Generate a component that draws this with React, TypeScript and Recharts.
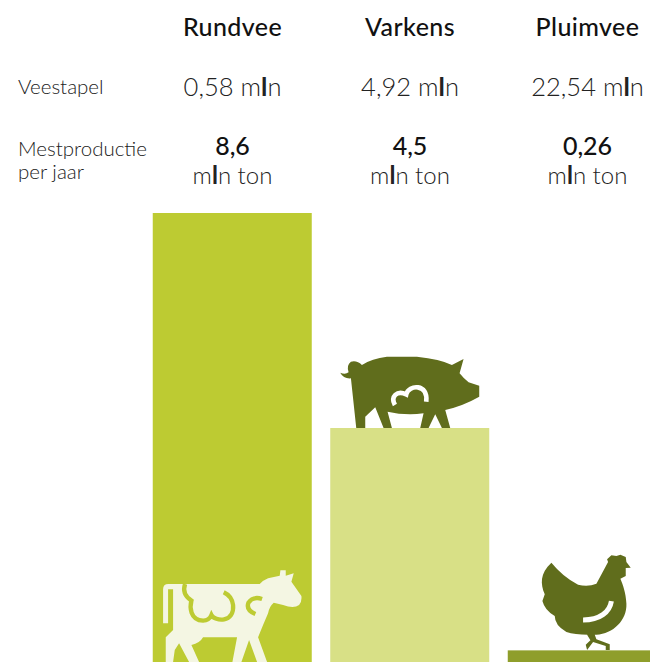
import { Bar, BarChart, XAxis, YAxis } from 'recharts';

const CATEGORIES = ['Rundvee', 'Varkens', 'Pluimvee'];
const MANURE = [8.6, 4.5, 0.26];
const MANURE_LABELS = ['8,6', '4,5', '0,26'];
const LIVESTOCK_LABELS = ['0,58', '4,92', '22,54'];
const ROW_LABEL_LIVESTOCK = 'Veestapel';
const ROW_LABEL_MANURE = ['Mestproductie', 'per jaar'];
const BAR_COLORS = ['#bdcb32', '#d8e086', '#8f9e2b'];

const chartData = CATEGORIES.map((name, index) => ({ name, manure: MANURE[index] }));

const FONT = 'Lato, "Open Sans", sans-serif';
const INK = '#111111';
const ICON_DARK = '#606d1c';
const ICON_LIGHT = '#f4f6e3';

function Mln() {
  return (
    <>
      m<tspan fontWeight={700}>l</tspan>n
    </>
  );
}

function ColumnTick({ x, index, payload }: any) {
  return (
    <g fontFamily={FONT} textAnchor="middle">
      <text x={x} y={36} fontSize={25} fontWeight={500} letterSpacing={0.4} fill={INK}>
        {payload.value}
      </text>
      <text x={x} y={96} fontSize={25.5} fontWeight={300} fill="#222222">
        {LIVESTOCK_LABELS[index]} <Mln />
      </text>
      <text x={x} y={155} fontSize={25} fontWeight={500} fill={INK}>
        {MANURE_LABELS[index]}
      </text>
      <text x={x} y={184} fontSize={24} fontWeight={300} fill="#222222">
        <Mln /> ton
      </text>
      {index === 0 && (
        <g textAnchor="start" fontSize={20.5} fontWeight={300} fill="#222222">
          <text x={18} y={94}>{ROW_LABEL_LIVESTOCK}</text>
          <text x={18} y={156}>{ROW_LABEL_MANURE[0]}</text>
          <text x={18} y={179}>{ROW_LABEL_MANURE[1]}</text>
        </g>
      )}
    </g>
  );
}

// icons are traced at 3x, hence the scale
function Cow() {
  return (
    <g transform="scale(0.3333)">
      <path
        fill={ICON_LIGHT}
        d="M70 190 L70 88 Q70 72 86 72 L360 72 Q372 60 385 55 L420 47 L422 31 L438 31 L438 47 L462 40 L455 65 L485 108 Q487 125 478 135 Q462 147 430 135 L402 128 Q388 140 385 160 L370 195 L355 232 L382 306 L352 306 L328 240 L305 306 L278 306 L292 232 L190 232 Q180 250 155 255 L178 306 L148 306 L118 250 L105 270 L100 306 L78 306 L78 232 L100 210 L100 88 L85 88 L85 190 Z"
      />
      <path
        fill="none"
        stroke={BAR_COLORS[0]}
        strokeWidth={13}
        d="M136 72 C128 95 140 112 155 122 C150 140 150 180 190 182 C205 182 212 172 215 165 C225 185 285 190 280 135 C277 115 265 103 252 97"
      />
      <path
        fill="none"
        stroke={BAR_COLORS[0]}
        strokeWidth={13}
        d="M367 117 Q340 108 326 128 Q318 150 347 162"
      />
    </g>
  );
}

function Pig() {
  return (
    <g transform="scale(0.3333)">
      <path
        fill={ICON_DARK}
        d="M62 100 L78 249 L105 249 L105 215 L135 187 L160 249 L185 249 L172 200 Q225 212 280 205 L270 249 L295 249 L315 208 L335 249 L360 249 L345 195 Q400 182 447 155 L447 122 L415 112 Q400 100 388 85 L400 42 L365 60 Q330 42 260 35 L170 35 Q125 40 95 60 Q80 45 62 50 Q48 60 55 82 Q45 90 30 83 Q40 102 62 100 Z"
      />
      <path
        fill="none"
        stroke="#ffffff"
        strokeWidth={14}
        d="M194 180 C180 155 200 135 228 148 C235 118 295 115 288 170"
      />
    </g>
  );
}

function Hen() {
  return (
    <g transform="scale(0.3333)">
      <path
        fill={ICON_DARK}
        d="M155 52 C120 85 122 115 135 147 L128 167 Q135 195 165 212 Q165 240 200 260 Q225 268 265 268 L285 268 L290 282 L330 297 L330 314 L318 314 L318 302 L280 290 L262 314 L258 298 L272 285 L262 268 L290 268 C340 265 382 225 380 175 C378 140 370 120 362 100 L378 92 L378 68 L393 67 L380 50 L378 35 L362 28 L350 32 L335 30 L322 42 L325 50 L290 115 Q265 125 235 118 Q190 95 155 52 Z"
      />
      <path
        fill="none"
        stroke="#ffffff"
        strokeWidth={15}
        d="M335 167 C330 200 300 224 250 224"
      />
    </g>
  );
}

function BarWithIcon({ x, y, width, height, index }: any) {
  const bottom = y + height;
  return (
    <g>
      <rect x={x} y={y} width={width} height={height} fill={BAR_COLORS[index]} />
      {index === 0 && (
        <g transform={`translate(${x - 13} ${bottom - 104})`}>
          <Cow />
        </g>
      )}
      {index === 1 && (
        <g transform={`translate(${x} ${y - 83})`}>
          <Pig />
        </g>
      )}
      {index === 2 && (
        <g transform={`translate(${x - 8} ${y - 105})`}>
          <Hen />
        </g>
      )}
    </g>
  );
}

export default function App() {
  return (
    <div style={{ position: 'fixed', left: 0, top: 0, width: 650, height: 662, overflow: 'hidden', background: '#fff' }}>
      <BarChart
        width={680}
        height={670}
        data={chartData}
        margin={{ top: 183, right: 3.75, bottom: 6, left: 143.75 }}
      >
        <XAxis
          dataKey="name"
          orientation="top"
          axisLine={false}
          tickLine={false}
          interval={0}
          height={30}
          tick={<ColumnTick />}
        />
        <YAxis hide domain={[0, 8.6]} />
        <Bar dataKey="manure" barSize={159} isAnimationActive={false} shape={<BarWithIcon />} />
      </BarChart>
    </div>
  );
}
